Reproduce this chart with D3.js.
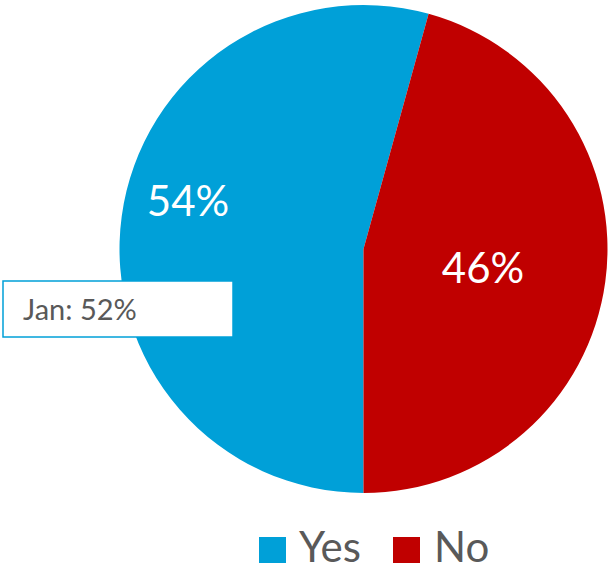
<!DOCTYPE html>
<html><head><meta charset="utf-8">
<script src="https://cdn.jsdelivr.net/npm/d3@7"></script>
<style>html,body{margin:0;padding:0;background:#fff;}svg{display:block;}</style>
</head><body>
<svg id="chart" width="610" height="568"></svg>
<script>
const categories = ["Yes", "No"];
const values = [54.3, 45.7];
const colors = ["#00a0d8", "#c00000"];
const annotation = "Jan: 52%";

const svg = d3.select("#chart");
const cx = 363.5, cy = 249, r = 244;
const font = "Lato, 'Open Sans', sans-serif";

const pie = d3.pie().sort(null).value(d => d.v).startAngle(Math.PI).endAngle(3 * Math.PI);
const data = categories.map((c, i) => ({c, v: values[i], col: colors[i]}));
const arcs = pie(data);
const arc = d3.arc().innerRadius(0).outerRadius(r);
const g = svg.append("g").attr("transform", `translate(${cx},${cy})`);
g.selectAll("path").data(arcs).join("path").attr("d", arc).attr("fill", d => d.data.col);

const labelPos = [[188, 216], [483, 283]];
const total = d3.sum(values);
svg.selectAll("text.lbl").data(arcs).join("text").attr("class", "lbl")
  .attr("x", (d, i) => labelPos[i][0]).attr("y", (d, i) => labelPos[i][1])
  .attr("text-anchor", "middle").attr("fill", "#fff")
  .style("font-family", font).style("font-size", "42px")
  .text(d => Math.round(d.data.v / total * 100) + "%");

// annotation box
svg.append("rect").attr("x", 3).attr("y", 281).attr("width", 230).attr("height", 56)
  .attr("fill", "#fff").attr("stroke", "#00a0d8").attr("stroke-width", 1.5);
svg.append("text").attr("x", 23).attr("y", 320).attr("fill", "#595959")
  .style("font-family", font).style("font-size", "29px").text(annotation);

// legend
const legX = [259, 393];
const leg = svg.selectAll("g.leg").data(data).join("g").attr("class", "leg")
  .attr("transform", (d, i) => `translate(${legX[i]},537)`);
leg.append("rect").attr("width", 27).attr("height", 26).attr("fill", d => d.col);
leg.append("text").attr("x", (d, i) => i === 0 ? 40 : 41).attr("y", 25).attr("fill", "#595959")
  .style("font-family", font).style("font-size", "42px").text(d => d.c);
</script>
</body></html>
